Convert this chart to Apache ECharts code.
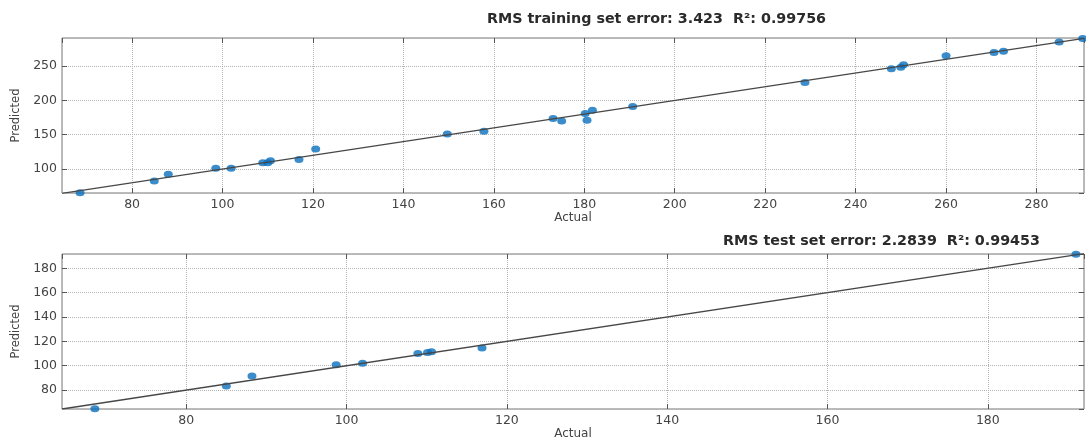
<!DOCTYPE html>
<html>
<head>
<meta charset="utf-8">
<script src="https://cdn.jsdelivr.net/npm/echarts@6/dist/echarts.min.js"></script>
<style>
  html, body { margin: 0; padding: 0; background: #fff; }
  #chart { width: 1086px; height: 443px; }
</style>
</head>
<body>
<div id="chart"></div>
<script>
// training set (top panel)
var trainActual = [68.5, 84.9, 88, 98.5, 101.9, 108.9, 110, 110.6, 116.9, 120.6, 149.7, 157.8, 173.1, 175, 180.2, 180.6, 181.8, 190.7, 228.8, 247.9, 250, 250.6, 260, 270.6, 272.7, 285, 290.2];
var trainPredicted = [65.4, 82.5, 92.3, 101, 101, 109.2, 109, 112, 114, 129, 151, 155, 173.5, 170, 181, 171, 185.5, 191, 226, 246, 248.5, 252, 265, 270, 271.5, 285, 290.2];
// test set (bottom panel)
var testActual = [68.6, 85, 88.2, 98.7, 102, 108.9, 110.1, 110.6, 116.9, 191];
var testPredicted = [64.8, 83.3, 91.5, 100.8, 102, 110, 110.8, 111.5, 114.5, 191.4];

var trainXRange = [64.5, 290.5];
var trainYRange = [65, 291];
var testXRange = [64.5, 192];
var testYRange = [64.5, 191.7];

var trainTitle = 'RMS training set error: 3.423  R\u00b2: 0.99756';
var testTitle = 'RMS test set error: 2.2839  R\u00b2: 0.99453';

function zip(a, b) {
    return a.map(function (v, i) { return [v, b[i]]; });
}

var font = 'DejaVu Sans, Verdana, sans-serif';
var labelStyle = { color: '#444', fontSize: 12.5, fontFamily: font, margin: 5, showMinLabel: false, showMaxLabel: false };
var gridLine = { show: true, lineStyle: { color: '#b4b4b4', type: 'dotted', width: 1 } };
var tick = { show: true, inside: true, length: 5, lineStyle: { color: '#555' } };

function mainX(grid, range, step) {
    return {
        type: 'value', gridIndex: grid, min: range[0], max: range[1],
        minInterval: step, maxInterval: step, splitNumber: 10,
        axisLine: { show: false }, axisTick: tick, splitLine: gridLine,
        axisLabel: labelStyle,
        name: 'Actual', nameLocation: 'middle', nameGap: 18,
        nameTextStyle: { color: '#444', fontSize: 12, fontFamily: font }
    };
}
function mainY(grid, range, step) {
    return {
        type: 'value', gridIndex: grid, min: range[0], max: range[1],
        minInterval: step, maxInterval: step, splitNumber: 6,
        axisLine: { show: false }, axisTick: tick, splitLine: gridLine,
        axisLabel: labelStyle,
        name: 'Predicted', nameLocation: 'middle', nameGap: 35,
        nameTextStyle: { color: '#444', fontSize: 11.5, fontFamily: font }
    };
}
// mirrored axes only for the inward ticks on the top / right edges
function mirror(grid, range, step, pos) {
    return {
        type: 'value', gridIndex: grid, min: range[0], max: range[1], position: pos,
        minInterval: step, maxInterval: step, splitNumber: 10,
        axisLine: { show: false }, axisTick: tick, splitLine: { show: false },
        axisLabel: { show: false }
    };
}

var chart = echarts.init(document.getElementById('chart'));

var titleStyle = { fontSize: 14.3, fontWeight: 'bold', color: '#2a2a2a', fontFamily: font };

var option = {
    backgroundColor: '#fff',
    animation: false,
    title: [
        { text: trainTitle, left: 482, top: 7, textStyle: titleStyle },
        { text: testTitle, left: 718, top: 229, textStyle: titleStyle }
    ],
    grid: [
        { left: 62, top: 38, width: 1022, height: 155, show: true, borderColor: '#777', borderWidth: 1 },
        { left: 62, top: 254, width: 1022, height: 155, show: true, borderColor: '#777', borderWidth: 1 }
    ],
    xAxis: [
        mainX(0, trainXRange, 20),
        mirror(0, trainXRange, 20, 'top'),
        mainX(1, testXRange, 20),
        mirror(1, testXRange, 20, 'top')
    ],
    yAxis: [
        mainY(0, trainYRange, 50),
        mirror(0, trainYRange, 50, 'right'),
        mainY(1, testYRange, 20),
        mirror(1, testYRange, 20, 'right')
    ],
    series: [
        {
            type: 'line', xAxisIndex: 0, yAxisIndex: 0, showSymbol: false, silent: true,
            data: [[trainXRange[0], trainXRange[0]], [trainXRange[1], trainXRange[1]]],
            lineStyle: { color: '#474747', width: 1.3 }
        },
        {
            type: 'scatter', xAxisIndex: 0, yAxisIndex: 0, symbolSize: [9, 7], clip: false,
            data: zip(trainActual, trainPredicted),
            itemStyle: { color: '#0a6fbd' }
        },
        {
            type: 'line', xAxisIndex: 2, yAxisIndex: 2, showSymbol: false, silent: true,
            data: [[testXRange[0], testXRange[0]], [testXRange[1], testXRange[1]]],
            lineStyle: { color: '#474747', width: 1.3 }
        },
        {
            type: 'scatter', xAxisIndex: 2, yAxisIndex: 2, symbolSize: [9, 7], clip: false,
            data: zip(testActual, testPredicted),
            itemStyle: { color: '#0a6fbd' }
        }
    ]
};

option && chart.setOption(option);
</script>
</body>
</html>
